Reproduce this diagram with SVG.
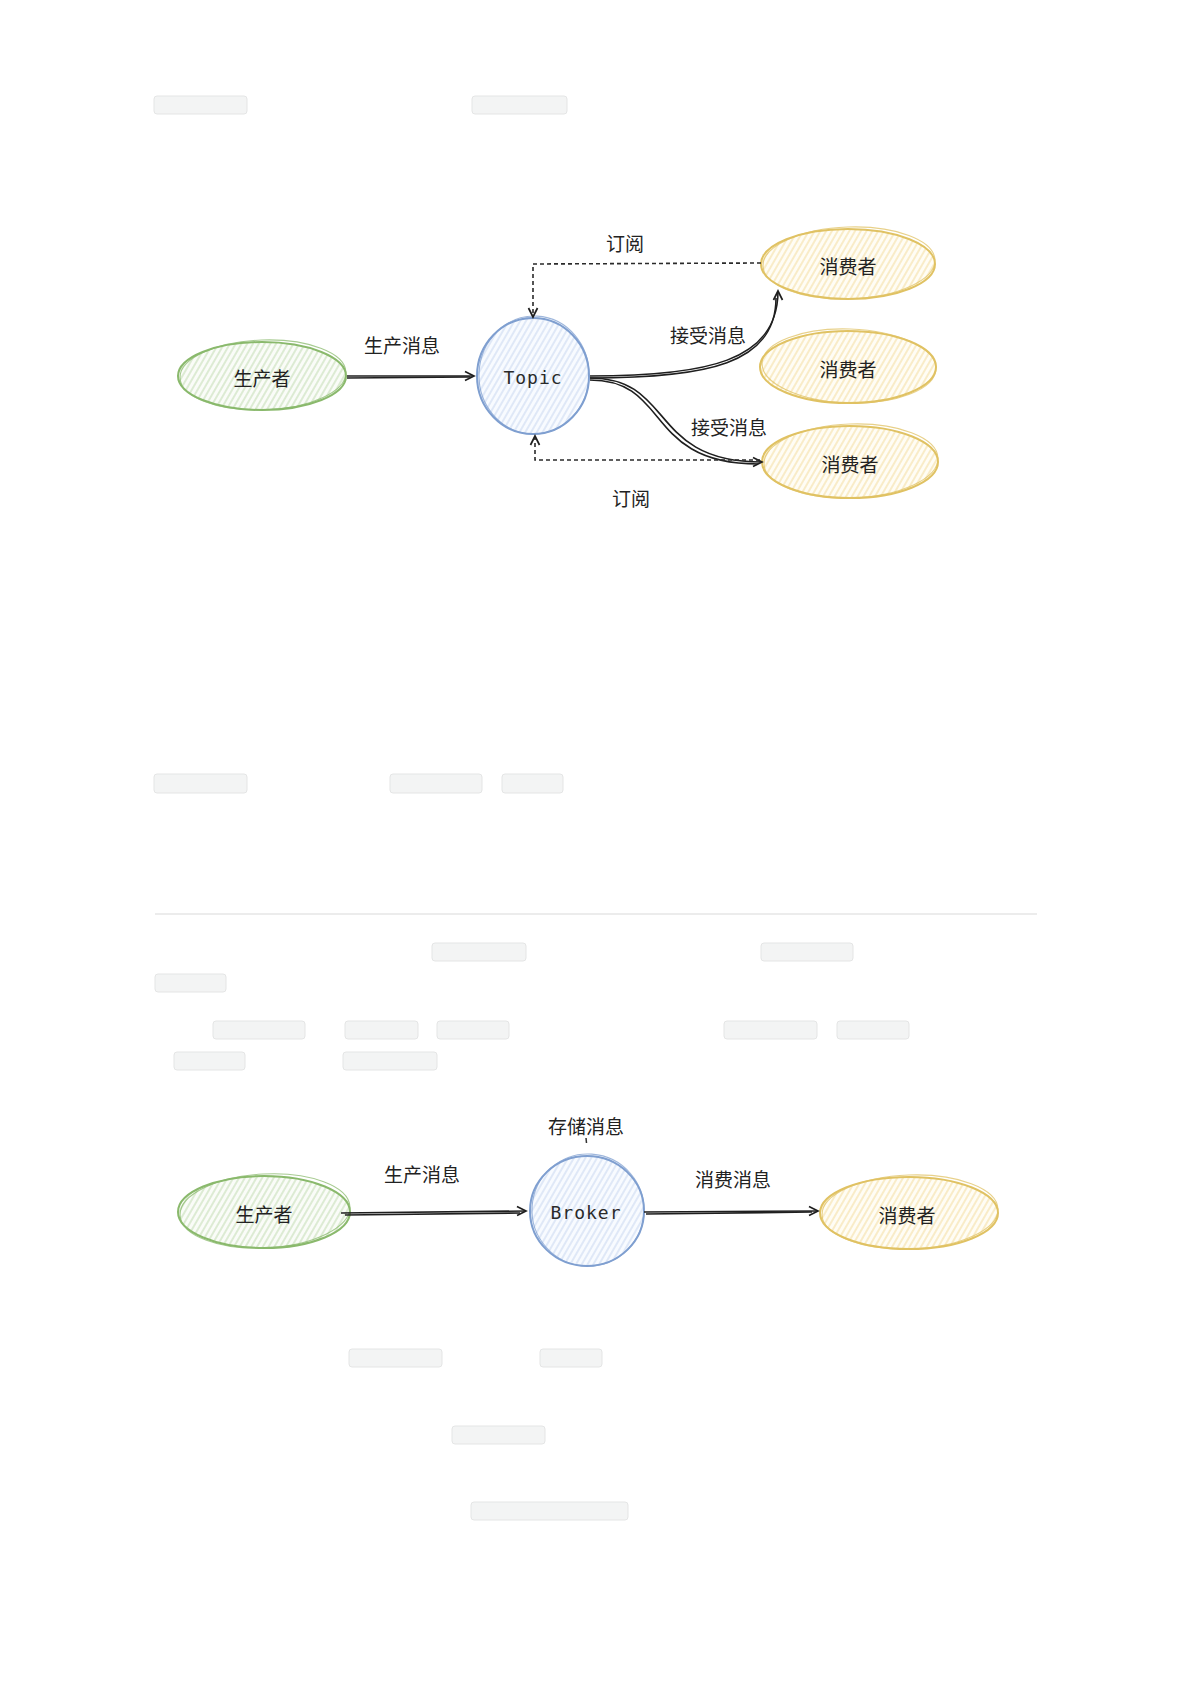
<svg xmlns="http://www.w3.org/2000/svg" width="1191" height="1685" viewBox="0 0 1191 1685">
<style>
.pill{fill:#f3f4f4;stroke:#e4e5e5;stroke-width:1}
.lbl{font-family:"Noto Sans CJK SC","Noto Sans",sans-serif;font-size:19px;fill:#222;text-anchor:middle;dominant-baseline:central}
.mono{font-family:"DejaVu Sans Mono","Liberation Mono",monospace;font-size:18px;fill:#2a2a2a;text-anchor:middle;dominant-baseline:central;letter-spacing:1px}
.g{fill:url(#hg);stroke:#8ab96c;stroke-width:2}
.b{fill:url(#hb);stroke:#7f9fd0;stroke-width:2}
.y{fill:url(#hy);stroke:#e0c263;stroke-width:2}
.s2{fill:none;stroke-width:1.1;opacity:0.75}
.e{fill:none;stroke:#1f1f1f;stroke-width:1.6}
.d{fill:none;stroke:#2a2a2a;stroke-width:1.6;stroke-dasharray:4 3}
</style>
<defs>
<pattern id="hg" width="5" height="5" patternUnits="userSpaceOnUse" patternTransform="rotate(30)"><rect width="5" height="5" fill="#fafcf8"/><line x1="1" y1="0" x2="1" y2="5" stroke="#cde3c0" stroke-width="1.3"/></pattern>
<pattern id="hb" width="5" height="5" patternUnits="userSpaceOnUse" patternTransform="rotate(30)"><rect width="5" height="5" fill="#f8fbff"/><line x1="1" y1="0" x2="1" y2="5" stroke="#d2dff4" stroke-width="1.3"/></pattern>
<pattern id="hy" width="5" height="5" patternUnits="userSpaceOnUse" patternTransform="rotate(30)"><rect width="5" height="5" fill="#fffdf5"/><line x1="1" y1="0" x2="1" y2="5" stroke="#f6e4b0" stroke-width="1.3"/></pattern>
<marker id="ah" markerWidth="12" markerHeight="12" refX="10" refY="6" orient="auto" markerUnits="userSpaceOnUse"><path d="M1,1.5 L10,6 L1,10.5" fill="none" stroke="#1f1f1f" stroke-width="1.7"/></marker>
</defs>

<g id="pills">
<rect class="pill" x="154" y="96" width="93" height="18" rx="3"/>
<rect class="pill" x="472" y="96" width="95" height="18" rx="3"/>
<rect class="pill" x="154" y="774" width="93" height="19" rx="3"/>
<rect class="pill" x="390" y="774" width="92" height="19" rx="3"/>
<rect class="pill" x="502" y="774" width="61" height="19" rx="3"/>
<rect class="pill" x="432" y="943" width="94" height="18" rx="3"/>
<rect class="pill" x="761" y="943" width="92" height="18" rx="3"/>
<rect class="pill" x="155" y="974" width="71" height="18" rx="3"/>
<rect class="pill" x="213" y="1021" width="92" height="18" rx="3"/>
<rect class="pill" x="345" y="1021" width="73" height="18" rx="3"/>
<rect class="pill" x="437" y="1021" width="72" height="18" rx="3"/>
<rect class="pill" x="724" y="1021" width="93" height="18" rx="3"/>
<rect class="pill" x="837" y="1021" width="72" height="18" rx="3"/>
<rect class="pill" x="174" y="1052" width="71" height="18" rx="3"/>
<rect class="pill" x="343" y="1052" width="94" height="18" rx="3"/>
<rect class="pill" x="349" y="1349" width="93" height="18" rx="3"/>
<rect class="pill" x="540" y="1349" width="62" height="18" rx="3"/>
<rect class="pill" x="452" y="1426" width="93" height="18" rx="3"/>
<rect class="pill" x="471" y="1502" width="157" height="18" rx="3"/>
</g>
<line id="separator" x1="155" y1="914" x2="1037" y2="914" stroke="#e6e6e6" stroke-width="1.5"/>

<!-- Diagram 1 -->
<g id="producer1">
<ellipse class="g" cx="262" cy="376" rx="84" ry="34"/>
<ellipse class="s2" cx="263" cy="375" rx="83" ry="35" stroke="#8ab96c" transform="rotate(-2 263 375)"/>
<text class="lbl" x="262" y="377">生产者</text>
</g>
<g id="topic">
<ellipse class="b" cx="533" cy="376" rx="56" ry="58"/>
<ellipse class="s2" cx="534" cy="375" rx="55" ry="59" stroke="#7f9fd0" transform="rotate(3 534 375)"/>
<text class="mono" x="533" y="377">Topic</text>
</g>
<g id="consumer1">
<ellipse class="y" cx="848" cy="264" rx="87" ry="35"/>
<ellipse class="s2" cx="849" cy="263" rx="86" ry="36" stroke="#e0c263" transform="rotate(-2 849 263)"/>
<text class="lbl" x="848" y="265">消费者</text>
</g>
<g id="consumer2">
<ellipse class="y" cx="848" cy="367" rx="88" ry="36"/>
<ellipse class="s2" cx="849" cy="366" rx="87" ry="37" stroke="#e0c263" transform="rotate(2 849 366)"/>
<text class="lbl" x="848" y="368">消费者</text>
</g>
<g id="consumer3">
<ellipse class="y" cx="850" cy="462" rx="88" ry="36"/>
<ellipse class="s2" cx="851" cy="461" rx="87" ry="37" stroke="#e0c263" transform="rotate(-2 851 461)"/>
<text class="lbl" x="850" y="463">消费者</text>
</g>

<!-- Diagram 2 -->
<g id="producer2">
<ellipse class="g" cx="264" cy="1212" rx="86" ry="36"/>
<ellipse class="s2" cx="265" cy="1211" rx="85" ry="37" stroke="#8ab96c" transform="rotate(-3 265 1211)"/>
<text class="lbl" x="264" y="1213">生产者</text>
</g>
<g id="broker">
<ellipse class="b" cx="587" cy="1211" rx="57" ry="55"/>
<ellipse class="s2" cx="588" cy="1210" rx="56" ry="56" stroke="#7f9fd0" transform="rotate(4 588 1210)"/>
<text class="mono" x="586" y="1212">Broker</text>
</g>
<g id="consumer4">
<ellipse class="y" cx="909" cy="1213" rx="89" ry="36"/>
<ellipse class="s2" cx="910" cy="1212" rx="88" ry="37" stroke="#e0c263" transform="rotate(-2 910 1212)"/>
<text class="lbl" x="907" y="1214">消费者</text>
</g>

<g id="connectors">
<path class="e" d="M347,376 L474,376" marker-end="url(#ah)"/>
<path class="e" d="M347,378 L470,377" stroke-width="1"/>
<path class="d" d="M761,263 L533,264 L533,317" marker-end="url(#ah)"/>
<path class="e" d="M590,376 C705,376 778,362 778,291" marker-end="url(#ah)"/>
<path class="e" d="M590,378 C707,378 776,364 776,298" stroke-width="0.9"/>
<path class="e" d="M590,378 C675,378 648,462 762,462" marker-end="url(#ah)"/>
<path class="e" d="M590,380 C671,380 644,464 758,464" stroke-width="0.9"/>
<path class="d" d="M760,460 L535,460 L535,436" marker-end="url(#ah)"/>
<path class="e" d="M341,1213 L526,1211" marker-end="url(#ah)"/>
<path class="e" d="M345,1215 L520,1213" stroke-width="1"/>
<path class="e" d="M644,1212 L818,1211" marker-end="url(#ah)"/>
<path class="e" d="M646,1214 L812,1212" stroke-width="1"/>
<line x1="586" y1="1138" x2="586.5" y2="1143" stroke="#333" stroke-width="1.5"/>
</g>

<g id="labels">
<text class="lbl" x="625" y="242">订阅</text>
<text class="lbl" x="402" y="344">生产消息</text>
<text class="lbl" x="708" y="334">接受消息</text>
<text class="lbl" x="729" y="426">接受消息</text>
<text class="lbl" x="631" y="497">订阅</text>
<text class="lbl" x="586" y="1125">存储消息</text>
<text class="lbl" x="422" y="1173">生产消息</text>
<text class="lbl" x="733" y="1178">消费消息</text>
</g>
</svg>
